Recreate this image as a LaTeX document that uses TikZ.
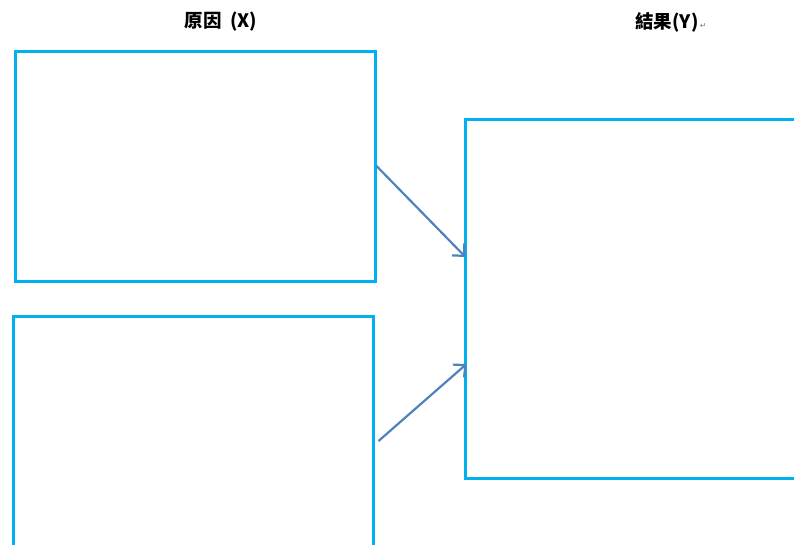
\documentclass[tikz,border=0pt]{standalone}
\usepackage{fontspec}
\newfontfamily\cjk{Noto Sans CJK TC}
\newfontfamily\symfont{DejaVu Sans}
\usetikzlibrary{arrows.meta, positioning}
\definecolor{boxblue}{RGB}{0,176,240}
\definecolor{arrowblue}{RGB}{79,129,189}
\tikzstyle{box} = [rectangle, draw=boxblue, line width=3pt, inner sep=0pt]
\tikzstyle{heading} = [font=\cjk\bfseries\fontsize{18.5}{22}\selectfont, inner sep=0pt]
\tikzstyle{arrow} = [draw=arrowblue, line width=2.2pt, -{Straight Barb[length=9pt,width=17pt,line width=2.2pt]}]

\begin{document}
\begin{tikzpicture}[x=1pt, y=-1pt]
            \useasboundingbox (0,0) rectangle (794,544);
            \node (cause) [heading] at (221,22) {原因\ \ (X)};
            \node (effect) [heading] at (667,22) {結果(Y)};
            \node (mark) [right=1pt of effect.base east, anchor=base west, inner sep=0pt,
                font=\symfont\fontsize{8}{9}\selectfont, text=gray] {↵};
            \node (xone) [box, minimum width=360pt, minimum height=230pt] at (195,166) {};
            \node (xtwo) [box, minimum width=360pt, minimum height=234pt] at (193,433) {};
            \node (yres) [box, minimum width=345pt, minimum height=359pt] at (637.5,298.5) {};

            \draw [arrow] (xone.east) -- ([xshift=2pt,yshift=41.5pt]yres.west);
            \draw [arrow] ([xshift=4pt,yshift=-8pt]xtwo.east) -- ([xshift=3pt,yshift=-65.5pt]yres.west);
        \end{tikzpicture}
\end{document}
